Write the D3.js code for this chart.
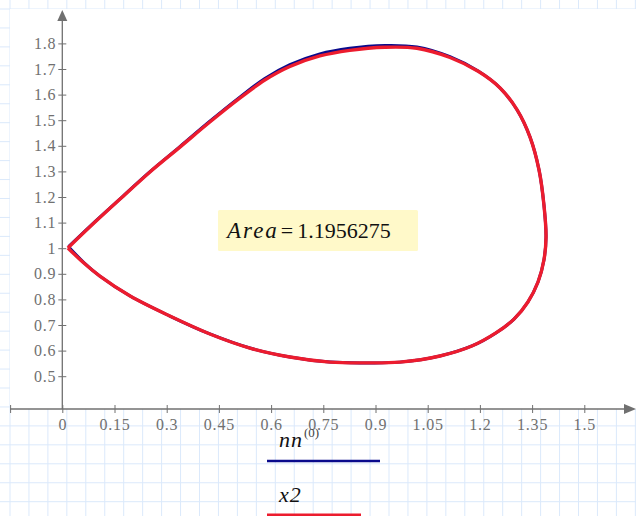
<!DOCTYPE html>
<html>
<head>
<meta charset="utf-8">
<script src="https://cdn.jsdelivr.net/npm/d3@7"></script>
<style>
  body { margin: 0; background: #fff; }
  svg { display: block; }
</style>
</head>
<body>
<div id="sandbox"></div>
<script>
// tick values for both axes
var xTicks = [-0.15, 0, 0.15, 0.3, 0.45, 0.6, 0.75, 0.9, 1.05, 1.2, 1.35, 1.5];
var yTicks = [0.5, 0.6, 0.7, 0.8, 0.9, 1, 1.1, 1.2, 1.3, 1.4, 1.5, 1.6, 1.7, 1.8];

// x2 curve (red), from the cusp going clockwise
var x2X = [0.016, 0.094, 0.166, 0.252, 0.338, 0.424, 0.511, 0.582, 0.654, 0.740, 0.826, 0.927, 1.019, 1.114, 1.195, 1.258, 1.307, 1.344, 1.370, 1.384, 1.390, 1.384, 1.367, 1.338, 1.298, 1.246, 1.177, 1.085, 0.970, 0.870, 0.769, 0.654, 0.539, 0.424, 0.309, 0.195, 0.108, 0.062, 0.016];
var x2Y = [1.001, 1.102, 1.192, 1.298, 1.395, 1.493, 1.587, 1.657, 1.710, 1.751, 1.773, 1.785, 1.781, 1.745, 1.691, 1.626, 1.540, 1.434, 1.305, 1.169, 1.044, 0.954, 0.868, 0.790, 0.723, 0.669, 0.618, 0.579, 0.555, 0.552, 0.555, 0.575, 0.610, 0.665, 0.735, 0.813, 0.891, 0.942, 1.001];

// nn<0> curve (blue), almost the same, a little higher near the top
var nnX = [0.018, 0.094, 0.166, 0.252, 0.338, 0.424, 0.511, 0.582, 0.654, 0.740, 0.826, 0.927, 1.019, 1.114, 1.195, 1.258, 1.307, 1.344, 1.370, 1.384, 1.390, 1.384, 1.367, 1.338, 1.298, 1.246, 1.177, 1.085, 0.970, 0.870, 0.769, 0.654, 0.539, 0.424, 0.309, 0.195, 0.108, 0.062, 0.018];
var nnY = [1.006, 1.104, 1.193, 1.299, 1.397, 1.496, 1.591, 1.663, 1.717, 1.759, 1.781, 1.792, 1.786, 1.748, 1.692, 1.626, 1.540, 1.434, 1.305, 1.169, 1.044, 0.954, 0.868, 0.790, 0.723, 0.669, 0.618, 0.579, 0.555, 0.552, 0.555, 0.575, 0.610, 0.665, 0.735, 0.813, 0.891, 0.944, 1.006];

var areaValue = '1.1956275';

var W = 636, H = 516;
var svg = d3.select('#sandbox').append('svg').attr('width', W).attr('height', H);

// graph paper background
var step = 18.95;
var grid = svg.append('g');
for (var gx = 10; gx <= W; gx += step) {
  grid.append('line').attr('x1', gx).attr('x2', gx).attr('y1', 0).attr('y2', H)
    .attr('stroke', '#dbe9fb').attr('stroke-width', 1);
}
for (var gy = 9; gy <= H; gy += step) {
  grid.append('line').attr('x1', 0).attr('x2', W).attr('y1', gy).attr('y2', gy)
    .attr('stroke', '#dbe9fb').attr('stroke-width', 1);
}

// white plot region
svg.append('rect').attr('x', 10).attr('y', 9).attr('width', W - 10).attr('height', 400).attr('fill', '#fff');

var x = d3.scaleLinear().domain([0, 1.5]).range([62.3, 584.3]);
var y = d3.scaleLinear().domain([1.0, 1.8]).range([248.2, 43.4]);

var axisColor = '#707070';
var font = '"Liberation Serif", serif';

// curves
var line = d3.line().curve(d3.curveCatmullRom.alpha(0.5));
var nnPts = nnX.map(function(d, i) { return [x(d), y(nnY[i])]; });
var x2Pts = x2X.map(function(d, i) { return [x(d), y(x2Y[i])]; });

svg.append('path').attr('d', line(nnPts)).attr('fill', 'none')
  .attr('stroke', '#0a0a8c').attr('stroke-width', 3).attr('stroke-linejoin', 'round');
svg.append('path').attr('d', line(x2Pts)).attr('fill', 'none')
  .attr('stroke', '#ec1c2e').attr('stroke-width', 3.4).attr('stroke-linejoin', 'round');

// axes
var y0 = 409;
var xAxis = d3.axisBottom(x).tickValues(xTicks).tickSize(4).tickPadding(6)
  .tickFormat(function(d) { return d < 0 ? '' : d3.format('')(d); });
var gX = svg.append('g').attr('transform', 'translate(0,' + y0 + ')').call(xAxis);
gX.select('.domain').remove();
gX.selectAll('.tick line').attr('y1', -4).attr('stroke', axisColor);
gX.selectAll('.tick text').attr('fill', axisColor).attr('letter-spacing', 0.8)
  .style('font-family', font).style('font-size', '16px');
svg.append('line').attr('x1', x(-0.15)).attr('x2', 628).attr('y1', y0).attr('y2', y0)
  .attr('stroke', axisColor).attr('stroke-width', 1.3);
svg.append('path').attr('d', 'M636,' + y0 + 'L624,' + (y0 - 5) + 'L624,' + (y0 + 5) + 'Z').attr('fill', axisColor);

var yAxis = d3.axisLeft(y).tickValues(yTicks).tickSize(4).tickPadding(2)
  .tickFormat(d3.format(''));
var gY = svg.append('g').attr('transform', 'translate(' + x(0) + ',0)').call(yAxis);
gY.select('.domain').remove();
gY.selectAll('.tick line').attr('x1', 4).attr('stroke', axisColor);
gY.selectAll('.tick text').attr('fill', axisColor).attr('letter-spacing', 0.8)
  .style('font-family', font).style('font-size', '16px');
svg.append('line').attr('x1', x(0)).attr('x2', x(0)).attr('y1', y0).attr('y2', 18)
  .attr('stroke', axisColor).attr('stroke-width', 1.3);
svg.append('path').attr('d', 'M' + x(0) + ',10L' + (x(0) - 5) + ',21L' + (x(0) + 5) + ',21Z').attr('fill', axisColor);

// area annotation
svg.append('rect').attr('x', 218).attr('y', 210).attr('width', 200).attr('height', 41)
  .attr('rx', 1.5).attr('fill', '#fff9c9');
var t = svg.append('text').attr('x', 227).attr('y', 238).attr('fill', '#111')
  .style('font-family', font).style('font-size', '22px');
t.append('tspan').style('font-style', 'italic').style('font-size', '23px').attr('letter-spacing', 2).text('Area');
t.append('tspan').attr('dx', 2).text('=');
t.append('tspan').attr('dx', 4).text(areaValue);

// trace labels below the axis
var l1 = svg.append('text').attr('x', 279).attr('y', 447).attr('fill', '#111')
  .style('font-family', font).style('font-size', '22px');
l1.append('tspan').style('font-style', 'italic').attr('letter-spacing', 1).text('nn');
l1.append('tspan').attr('dy', -10).attr('dx', 1).style('font-size', '13px').attr('fill', '#444').text('(0)');
svg.append('line').attr('x1', 267).attr('x2', 380).attr('y1', 461).attr('y2', 461)
  .attr('stroke', '#0a0a8c').attr('stroke-width', 2.5);

svg.append('text').attr('x', 279).attr('y', 502).attr('fill', '#111').attr('letter-spacing', 1)
  .style('font-family', font).style('font-size', '22px').style('font-style', 'italic').text('x2');
svg.append('line').attr('x1', 267).attr('x2', 361).attr('y1', 515).attr('y2', 515)
  .attr('stroke', '#ec1c2e').attr('stroke-width', 3);
</script>
</body>
</html>
